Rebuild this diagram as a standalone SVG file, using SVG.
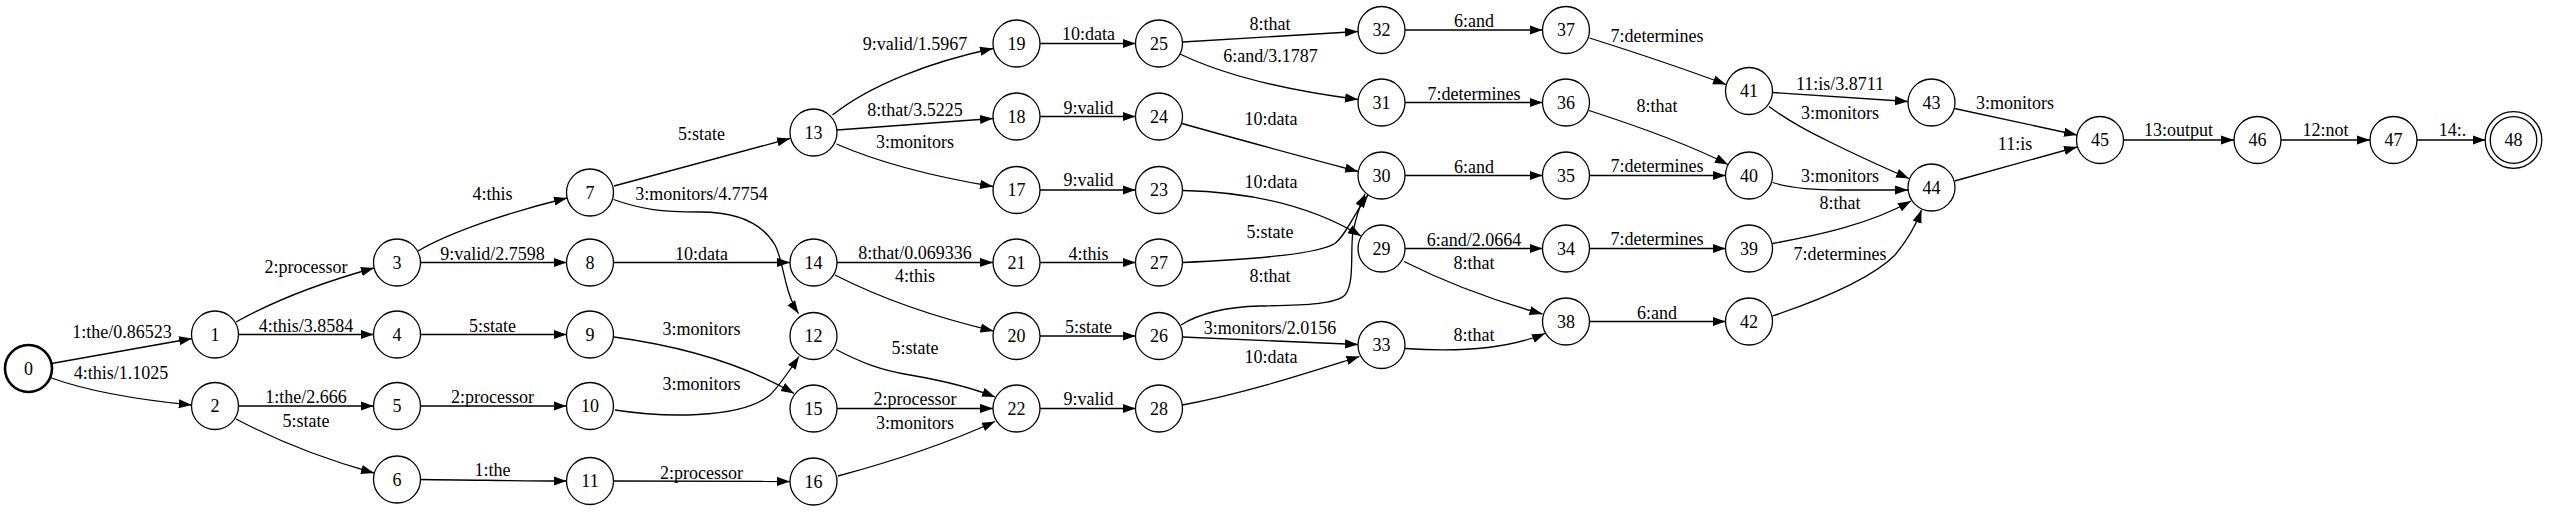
<svg xmlns="http://www.w3.org/2000/svg" width="2550" height="512" viewBox="0 0 2550 512">
<style>
.n circle{fill:#fff;stroke:#000;stroke-width:1.3}
.n text{font-family:"Liberation Serif","Times New Roman",serif;font-size:18px;text-anchor:middle;fill:#000}
.e path{fill:none;stroke:#000;stroke-width:1.3;marker-end:url(#ah)}
.e text{font-family:"Liberation Serif","Times New Roman",serif;font-size:18px;text-anchor:middle;fill:#000}
</style>
<defs>
<marker id="ah" markerUnits="userSpaceOnUse" markerWidth="14" markerHeight="10" refX="13" refY="4.6" orient="auto"><path d="M0,0 L13,4.6 L0,9.2 z" fill="#000"/></marker>
</defs>
<rect width="2550" height="512" fill="#fff"/>
<g id="edges" class="e">
<path d="M51.5,363.5 L192,338.5"/><text x="122" y="338">1:the/0.86523</text>
<path d="M50,377.5 C90,392 140,400 191.8,405"/><text x="121" y="379">4:this/1.1025</text>
<path d="M236,322 C270,303 320,283 374,268"/><text x="306" y="273">2:processor</text>
<path d="M238.5,334.5 L373.5,334.5"/><text x="306" y="331.5">4:this/3.8584</text>
<path d="M238.5,406 L373.5,406"/><text x="306" y="403">1:the/2.666</text>
<path d="M236,419 C270,437 320,458 374,473"/><text x="306" y="426.5">5:state</text>
<path d="M418,251 C450,232 510,212 567,198"/><text x="492.5" y="199.5">4:this</text>
<path d="M420.5,262.5 L566.5,262.5"/><text x="492.5" y="260">9:valid/2.7598</text>
<path d="M420.5,334.5 L566.5,334.5"/><text x="492.5" y="331.5">5:state</text>
<path d="M420.5,406 L566.5,406"/><text x="492.5" y="402.5">2:processor</text>
<path d="M420.5,479.5 C480,480 520,481 566.5,481"/><text x="492.5" y="476">1:the</text>
<path d="M614,186 L790,138.5"/><text x="701.5" y="140">5:state</text>
<path d="M613.5,199.5 C640,209 660,212 700,212 C745,212 765,228 775,245 C784,262 784,292 798.5,313.5"/><text x="701.5" y="200">3:monitors/4.7754</text>
<path d="M613.5,262.5 L790,262.5"/><text x="701.5" y="259.5">10:data</text>
<path d="M614,337 C680,346 740,362 794,393.5"/><text x="701.5" y="335">3:monitors</text>
<path d="M615,410 C660,417 740,420 770,395 C780,385 790,370 799,356.5"/><text x="701.5" y="389.5">3:monitors</text>
<path d="M613.5,481 L790,481.5"/><text x="701.5" y="478.5">2:processor</text>
<path d="M832.5,115 C870,85 930,62 993,48.5"/><text x="915" y="50">9:valid/1.5967</text>
<path d="M837,130 L993,118.5"/><text x="915" y="116">8:that/3.5225</text>
<path d="M836.5,144 C880,163 930,176 993,186.5"/><text x="915" y="147.5">3:monitors</text>
<path d="M837,262.5 L993,262.5"/><text x="915" y="258.5">8:that/0.069336</text>
<path d="M835,275 C880,298 930,316 993.5,331"/><text x="915" y="281.5">4:this</text>
<path d="M836,349.5 C860,362 880,370 910,375 C945,381 970,387 995,397"/><text x="915" y="354">5:state</text>
<path d="M837,408.5 L993,408.5"/><text x="915" y="405">2:processor</text>
<path d="M838,476 C890,462 950,442 995,421.5"/><text x="915" y="428.5">3:monitors</text>
<path d="M1040,43.5 L1135.5,43.5"/><text x="1088.5" y="40">10:data</text>
<path d="M1040,116.5 L1135.5,116.5"/><text x="1088.5" y="113.5">9:valid</text>
<path d="M1040,190 L1135.5,190"/><text x="1088.5" y="186">9:valid</text>
<path d="M1040,262.5 L1135.5,262.5"/><text x="1088.5" y="259.5">4:this</text>
<path d="M1040,336 L1135.5,336"/><text x="1088.5" y="332.5">5:state</text>
<path d="M1040,408.5 L1135.5,408.5"/><text x="1088.5" y="405">9:valid</text>
<path d="M1182.5,42 L1358,31.5"/><text x="1270" y="30">8:that</text>
<path d="M1180,54 C1230,78 1300,92 1358,99.5"/><text x="1270.5" y="61.5">6:and/3.1787</text>
<path d="M1182,123.5 C1240,140 1300,156 1358,171.5"/><text x="1271" y="125">10:data</text>
<path d="M1183,190.5 C1250,192 1310,205 1361,236"/><text x="1271" y="187.5">10:data</text>
<path d="M1182.5,262.5 C1240,260 1315,255 1334,244 C1345,237 1355,212 1368,195"/><text x="1270" y="237.5">5:state</text>
<path d="M1181,325 C1200,313 1225,307 1260,306 C1300,305 1335,305 1345,295 C1355,283 1350,250 1353,232 C1355,222 1358,210 1365,194"/><text x="1270" y="281.5">8:that</text>
<path d="M1182.5,337 L1358,344.5"/><text x="1270" y="333.5">3:monitors/2.0156</text>
<path d="M1182.5,405 C1250,392 1310,372 1359.5,356.5"/><text x="1271" y="362.5">10:data</text>
<path d="M1405,30 L1542.5,30"/><text x="1474" y="26.5">6:and</text>
<path d="M1405,102.5 L1542.5,102.5"/><text x="1474" y="99.5">7:determines</text>
<path d="M1405,175.5 L1542.5,175.5"/><text x="1474" y="172.5">6:and</text>
<path d="M1405,248.5 L1542.5,248.5"/><text x="1474" y="246">6:and/2.0664</text>
<path d="M1404,261.5 C1445,282 1495,301 1542.5,314"/><text x="1474" y="268.5">8:that</text>
<path d="M1405,348.5 C1440,351 1500,352 1545,333.5"/><text x="1474" y="340.5">8:that</text>
<path d="M1589.5,38 C1640,54 1690,71 1726,84.5"/><text x="1657" y="41.5">7:determines</text>
<path d="M1589,110.5 C1640,127 1690,145 1728,164.5"/><text x="1657" y="111.5">8:that</text>
<path d="M1589.5,175.5 L1725.5,175.5"/><text x="1657" y="171.5">7:determines</text>
<path d="M1589.5,248.5 L1725.5,248.5"/><text x="1657" y="245">7:determines</text>
<path d="M1589.5,321.5 L1725.5,321.5"/><text x="1657" y="318.5">6:and</text>
<path d="M1772.5,92.5 L1908,101.5"/><text x="1840" y="89.5">11:is/3.8711</text>
<path d="M1769,106.5 C1790,122 1810,132 1830,142 C1860,157 1885,168 1909,178.5"/><text x="1840" y="118.5">3:monitors</text>
<path d="M1772.5,182.5 C1790,188 1810,190 1840,190 L1908,190"/><text x="1840" y="181.5">3:monitors</text>
<path d="M1772.5,243.5 C1820,235 1870,224 1911,201"/><text x="1840" y="208.5">8:that</text>
<path d="M1772.5,316 C1820,300 1870,280 1895,255 C1905,243 1915,228 1921.5,210"/><text x="1840" y="259.5">7:determines</text>
<path d="M1954.5,108.5 L2077,135"/><text x="2015" y="108.5">3:monitors</text>
<path d="M1954.5,181 L2077,147"/><text x="2015" y="149.5">11:is</text>
<path d="M2123.5,140 L2234,140"/><text x="2178.5" y="136">13:output</text>
<path d="M2281,140 L2370,140"/><text x="2325.5" y="136">12:not</text>
<path d="M2417,140 L2485.5,140"/><text x="2452.5" y="136">14:.</text>
</g>
<g id="node0" class="n"><circle cx="28.5" cy="368.5" r="23.5" style="stroke-width:2.6"/><text x="28.5" y="374.5">0</text></g>
<g id="node1" class="n"><circle cx="215" cy="334.5" r="23.5"/><text x="215" y="340.5">1</text></g>
<g id="node2" class="n"><circle cx="215" cy="406" r="23.5"/><text x="215" y="412">2</text></g>
<g id="node3" class="n"><circle cx="397" cy="262.5" r="23.5"/><text x="397" y="268.5">3</text></g>
<g id="node4" class="n"><circle cx="397" cy="334.5" r="23.5"/><text x="397" y="340.5">4</text></g>
<g id="node5" class="n"><circle cx="397" cy="406" r="23.5"/><text x="397" y="412">5</text></g>
<g id="node6" class="n"><circle cx="397" cy="479.5" r="23.5"/><text x="397" y="485.5">6</text></g>
<g id="node7" class="n"><circle cx="590" cy="192.5" r="23.5"/><text x="590" y="198.5">7</text></g>
<g id="node8" class="n"><circle cx="590" cy="262.5" r="23.5"/><text x="590" y="268.5">8</text></g>
<g id="node9" class="n"><circle cx="590" cy="334.5" r="23.5"/><text x="590" y="340.5">9</text></g>
<g id="node10" class="n"><circle cx="590" cy="406" r="23.5"/><text x="590" y="412">10</text></g>
<g id="node11" class="n"><circle cx="590" cy="481" r="23.5"/><text x="590" y="487">11</text></g>
<g id="node12" class="n"><circle cx="813.5" cy="336" r="23.5"/><text x="813.5" y="342">12</text></g>
<g id="node13" class="n"><circle cx="813.5" cy="132.5" r="23.5"/><text x="813.5" y="138.5">13</text></g>
<g id="node14" class="n"><circle cx="813.5" cy="262.5" r="23.5"/><text x="813.5" y="268.5">14</text></g>
<g id="node15" class="n"><circle cx="813.5" cy="408.5" r="23.5"/><text x="813.5" y="414.5">15</text></g>
<g id="node16" class="n"><circle cx="813.5" cy="481.5" r="23.5"/><text x="813.5" y="487.5">16</text></g>
<g id="node17" class="n"><circle cx="1016.5" cy="190" r="23.5"/><text x="1016.5" y="196">17</text></g>
<g id="node18" class="n"><circle cx="1016.5" cy="116.5" r="23.5"/><text x="1016.5" y="122.5">18</text></g>
<g id="node19" class="n"><circle cx="1016.5" cy="43.5" r="23.5"/><text x="1016.5" y="49.5">19</text></g>
<g id="node20" class="n"><circle cx="1016.5" cy="336" r="23.5"/><text x="1016.5" y="342">20</text></g>
<g id="node21" class="n"><circle cx="1016.5" cy="262.5" r="23.5"/><text x="1016.5" y="268.5">21</text></g>
<g id="node22" class="n"><circle cx="1016.5" cy="408.5" r="23.5"/><text x="1016.5" y="414.5">22</text></g>
<g id="node23" class="n"><circle cx="1159" cy="190" r="23.5"/><text x="1159" y="196">23</text></g>
<g id="node24" class="n"><circle cx="1159" cy="116.5" r="23.5"/><text x="1159" y="122.5">24</text></g>
<g id="node25" class="n"><circle cx="1159" cy="43.5" r="23.5"/><text x="1159" y="49.5">25</text></g>
<g id="node26" class="n"><circle cx="1159" cy="336" r="23.5"/><text x="1159" y="342">26</text></g>
<g id="node27" class="n"><circle cx="1159" cy="262.5" r="23.5"/><text x="1159" y="268.5">27</text></g>
<g id="node28" class="n"><circle cx="1159" cy="408.5" r="23.5"/><text x="1159" y="414.5">28</text></g>
<g id="node29" class="n"><circle cx="1381.5" cy="248.5" r="23.5"/><text x="1381.5" y="254.5">29</text></g>
<g id="node30" class="n"><circle cx="1381.5" cy="175.5" r="23.5"/><text x="1381.5" y="181.5">30</text></g>
<g id="node31" class="n"><circle cx="1381.5" cy="102.5" r="23.5"/><text x="1381.5" y="108.5">31</text></g>
<g id="node32" class="n"><circle cx="1381.5" cy="30" r="23.5"/><text x="1381.5" y="36">32</text></g>
<g id="node33" class="n"><circle cx="1381.5" cy="345" r="23.5"/><text x="1381.5" y="351">33</text></g>
<g id="node34" class="n"><circle cx="1566" cy="248.5" r="23.5"/><text x="1566" y="254.5">34</text></g>
<g id="node35" class="n"><circle cx="1566" cy="175.5" r="23.5"/><text x="1566" y="181.5">35</text></g>
<g id="node36" class="n"><circle cx="1566" cy="102.5" r="23.5"/><text x="1566" y="108.5">36</text></g>
<g id="node37" class="n"><circle cx="1566" cy="30" r="23.5"/><text x="1566" y="36">37</text></g>
<g id="node38" class="n"><circle cx="1566" cy="321.5" r="23.5"/><text x="1566" y="327.5">38</text></g>
<g id="node39" class="n"><circle cx="1749" cy="248.5" r="23.5"/><text x="1749" y="254.5">39</text></g>
<g id="node40" class="n"><circle cx="1749" cy="175.5" r="23.5"/><text x="1749" y="181.5">40</text></g>
<g id="node41" class="n"><circle cx="1749" cy="91" r="23.5"/><text x="1749" y="97">41</text></g>
<g id="node42" class="n"><circle cx="1749" cy="321.5" r="23.5"/><text x="1749" y="327.5">42</text></g>
<g id="node43" class="n"><circle cx="1931.5" cy="102.5" r="23.5"/><text x="1931.5" y="108.5">43</text></g>
<g id="node44" class="n"><circle cx="1931.5" cy="187.5" r="23.5"/><text x="1931.5" y="193.5">44</text></g>
<g id="node45" class="n"><circle cx="2100" cy="140" r="23.5"/><text x="2100" y="146">45</text></g>
<g id="node46" class="n"><circle cx="2257.5" cy="140" r="23.5"/><text x="2257.5" y="146">46</text></g>
<g id="node47" class="n"><circle cx="2393.5" cy="140" r="23.5"/><text x="2393.5" y="146">47</text></g>
<g id="node48" class="n"><circle cx="2513.5" cy="140" r="28.3"/><circle cx="2513.5" cy="140" r="23.3"/><text x="2513.5" y="146">48</text></g>
</svg>
